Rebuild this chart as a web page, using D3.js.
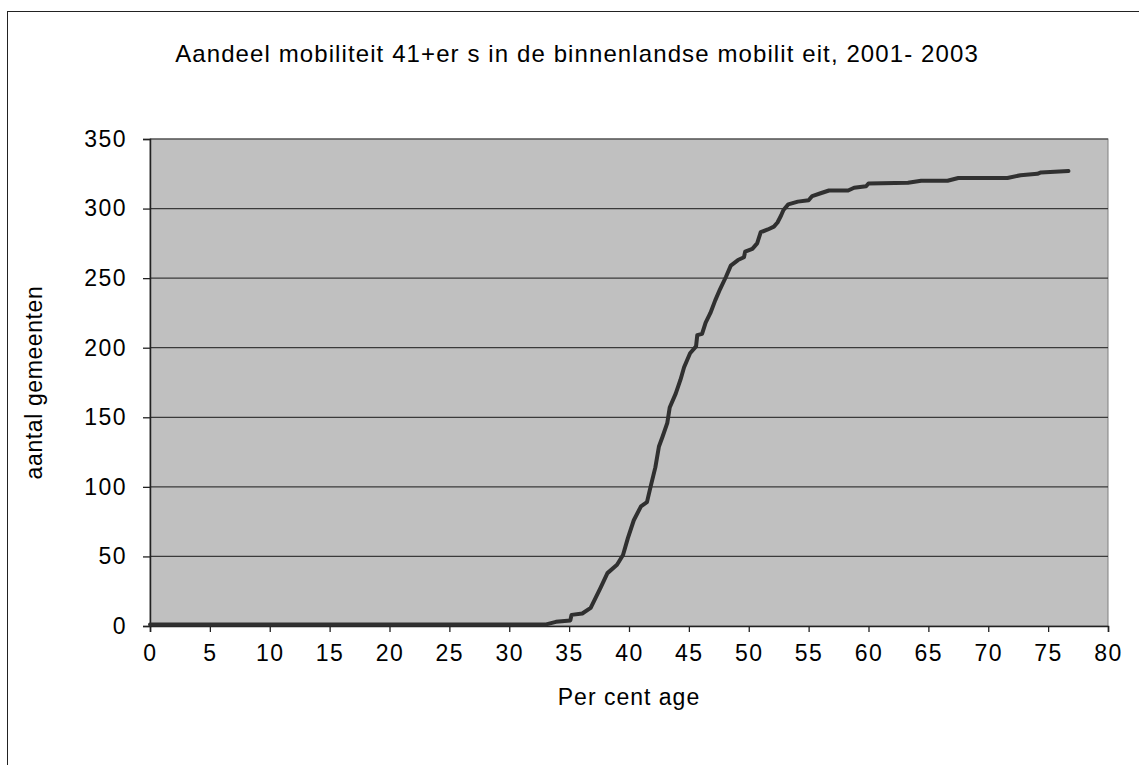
<!DOCTYPE html>
<html>
<head>
<meta charset="utf-8">
<script src="https://cdn.jsdelivr.net/npm/d3@7"></script>
<style>
  body { margin: 0; background: white; }
  text { font-family: "Liberation Sans", Arial, sans-serif; fill: black; }
</style>
</head>
<body>
<div id="viz-container"></div>
<script>
let svgWidth = 1139;
let svgHeight = 765;

// data
let percentage = [0, 33.0, 33.9, 35.1, 35.2, 36.1, 36.8, 37.2, 37.6, 38.2, 39.0, 39.5, 39.9, 40.4, 41.0, 41.5, 41.8, 42.2, 42.5, 42.8, 43.2, 43.4, 43.9, 44.3, 44.6, 45.1, 45.6, 45.7, 46.1, 46.4, 46.8, 47.2, 47.6, 48.1, 48.5, 49.1, 49.6, 49.7, 50.3, 50.7, 51.0, 51.6, 52.1, 52.4, 52.7, 52.9, 53.3, 54.1, 55.0, 55.3, 56.0, 56.7, 58.3, 58.8, 59.8, 60.0, 63.3, 64.4, 66.6, 67.5, 71.6, 72.7, 74.1, 74.4, 76.7];
let gemeenten = [1, 1, 3, 4, 8, 9, 13, 20, 27, 38, 44, 51, 63, 76, 86, 89, 100, 114, 129, 136, 146, 157, 167, 177, 186, 196, 201, 209, 210, 218, 225, 234, 242, 251, 259, 263, 265, 269, 271, 275, 283, 285, 287, 290, 295, 299, 303, 305, 306, 309, 311, 313, 313, 315, 316, 318, 318.5, 320, 320, 322, 322, 324, 325, 326, 327];
let xTicks = d3.range(0, 81, 5);
let yTicks = d3.range(0, 351, 50);

let titleText = "Aandeel mobiliteit 41+er s in de binnenlandse mobilit eit, 2001- 2003";
let xLabel = "Per cent age";
let yLabel = "aantal gemeenten";

let plotLeft = 150, plotRight = 1108, plotTop = 139, plotBottom = 626;

let viz = d3.select("#viz-container")
  .append("svg")
    .attr("width", svgWidth)
    .attr("height", svgHeight);

// page frame (only left & top show)
viz.append("rect")
  .attr("x", 7.5).attr("y", 11.5)
  .attr("width", 1140).attr("height", 760)
  .attr("fill", "none")
  .attr("stroke", "#222")
  .attr("stroke-width", 1);

let x = d3.scaleLinear().domain([0, 80]).range([plotLeft, plotRight]);
let y = d3.scaleLinear().domain([0, 350]).range([plotBottom, plotTop]);

viz.append("rect")
  .attr("x", plotLeft).attr("y", plotTop)
  .attr("width", plotRight - plotLeft).attr("height", plotBottom - plotTop)
  .attr("fill", "#c0c0c0")
  .attr("stroke", "#808080");

// gridlines
viz.selectAll(".grid").data(yTicks.filter(d => d > 0)).enter()
  .append("line")
    .attr("class", "grid")
    .attr("x1", plotLeft).attr("x2", plotRight)
    .attr("y1", d => y(d)).attr("y2", d => y(d))
    .attr("stroke", "#3a3a3a")
    .attr("stroke-width", 1.2);

let xAxis = viz.append("g")
  .attr("transform", "translate(0," + plotBottom + ")")
  .call(d3.axisBottom(x).tickValues(xTicks).tickSize(6).tickPadding(13));

let yAxis = viz.append("g")
  .attr("transform", "translate(" + plotLeft + ",0)")
  .call(d3.axisLeft(y).tickValues(yTicks).tickSize(7).tickPadding(16));

[xAxis, yAxis].forEach(function(ax){
  ax.select(".domain").attr("stroke", "#222").attr("stroke-width", 1.5);
  ax.selectAll(".tick line").attr("stroke", "#222").attr("stroke-width", 1.3);
  ax.selectAll(".tick text")
    .attr("font-family", "Liberation Sans, Arial, sans-serif")
    .attr("font-size", 23)
    .attr("letter-spacing", 1.5)
    .attr("fill", "black");
});

let lineData = percentage.map((p, i) => [p, gemeenten[i]]);

viz.append("path")
  .datum(lineData)
  .attr("d", d3.line().x(d => x(d[0])).y(d => y(d[1])))
  .attr("fill", "none")
  .attr("stroke", "#303030")
  .attr("stroke-width", 4)
  .attr("stroke-linejoin", "round")
  .attr("stroke-linecap", "round");

viz.append("text")
  .text(titleText)
  .attr("x", 577).attr("y", 62)
  .attr("text-anchor", "middle")
  .attr("font-size", 24)
  .attr("letter-spacing", 1.1);

viz.append("text")
  .text(xLabel)
  .attr("x", (plotLeft + plotRight) / 2).attr("y", 705)
  .attr("text-anchor", "middle")
  .attr("font-size", 23)
  .attr("letter-spacing", 1);

viz.append("text")
  .text(yLabel)
  .attr("transform", "translate(42," + ((plotTop + plotBottom) / 2) + ") rotate(-90)")
  .attr("text-anchor", "middle")
  .attr("font-size", 23)
  .attr("letter-spacing", 0.6);
</script>
</body>
</html>
